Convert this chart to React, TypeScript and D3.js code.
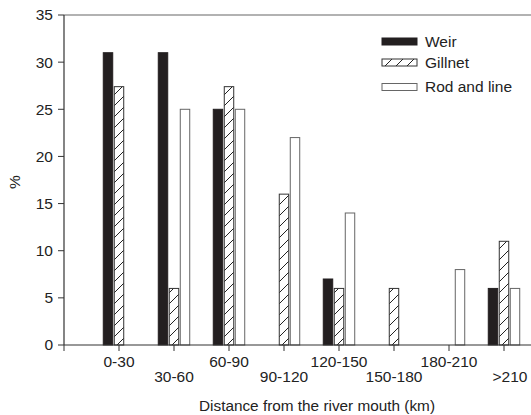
import * as d3 from "d3";

const categories = ["0-30", "30-60", "60-90", "90-120", "120-150", "150-180", "180-210", ">210"];
const seriesNames = ["Weir", "Gillnet", "Rod and line"];
const weir = [31, 31, 25, 0, 7, 0, 0, 6];
const gillnet = [27.4, 6, 27.4, 16, 6, 6, 0, 11];
const rodAndLine = [0, 25, 25, 22, 14, 0, 8, 6];
const yTicks = [0, 5, 10, 15, 20, 25, 30, 35];

const font = "'Liberation Sans', Arial, sans-serif";

export default function App() {
  const width = 531;
  const height = 415;
  const marginLeft = 64;
  const marginTop = 15;
  const plotBottom = 345;

  // category i sits at slot i + 1; slot 0 is the axis origin
  const x = d3.scaleLinear().domain([0, 9]).range([marginLeft, marginLeft + 55 * 9]);
  const y = d3.scaleLinear().domain([0, 35]).range([plotBottom, marginTop]);
  const inner = d3.scaleBand<string>().domain(seriesNames).range([-16.5, 16.5]).paddingInner(0.14).paddingOuter(0.07);

  const series = [weir, gillnet, rodAndLine];
  const fills = ["#231f20", "url(#hatch)", "#fff"];
  const strokes = ["#231f20", "#333", "#666"];

  const bars: { key: string; x: number; y: number; w: number; h: number; s: number }[] = [];
  categories.forEach((c, i) => {
    series.forEach((vals, s) => {
      const v = vals[i];
      if (!v) return;
      bars.push({
        key: c + s,
        x: x(i + 1) + (inner(seriesNames[s]) ?? 0),
        y: y(v),
        w: inner.bandwidth(),
        h: y(0) - y(v),
        s,
      });
    });
  });

  const xTicks = d3.range(0, 9);

  return (
    <svg width={width} height={height} style={{ position: "absolute", left: 0, top: 0, background: "#fff" }}>
      <defs>
        <pattern id="hatch" patternUnits="userSpaceOnUse" width={11} height={11}>
          <rect width={11} height={11} fill="#fff" />
          <line x1={0} y1={11} x2={11} y2={0} stroke="#222" strokeWidth={1} />
          <line x1={-1} y1={1} x2={1} y2={-1} stroke="#222" strokeWidth={1} />
          <line x1={10} y1={12} x2={12} y2={10} stroke="#222" strokeWidth={1} />
        </pattern>
      </defs>

      {bars.map(b => (
        <rect
          key={b.key}
          x={b.x}
          y={b.y}
          width={b.w}
          height={b.h}
          fill={fills[b.s]}
          stroke={strokes[b.s]}
          strokeWidth={1}
        />
      ))}

      {/* frame */}
      <line x1={marginLeft} x2={width} y1={marginTop} y2={marginTop} stroke="#666" strokeWidth={1.2} />
      <line x1={marginLeft} x2={marginLeft} y1={marginTop} y2={plotBottom} stroke="#333" strokeWidth={1.2} />
      <line x1={marginLeft} x2={width} y1={plotBottom} y2={plotBottom} stroke="#333" strokeWidth={1.2} />

      {/* y axis */}
      <g fontFamily={font} fontSize={15.5} fill="#222">
        {yTicks.map(t => (
          <g key={t}>
            <line x1={58} x2={marginLeft} y1={y(t)} y2={y(t)} stroke="#333" />
            <text x={53} y={y(t)} dy="0.35em" textAnchor="end">
              {t}
            </text>
          </g>
        ))}
        <text transform={`translate(20,${(marginTop + plotBottom) / 2 + 2}) rotate(-90)`} textAnchor="middle">
          %
        </text>
      </g>

      {/* x axis */}
      <g fontFamily={font} fontSize={15.5} fill="#222">
        {xTicks.map(t => (
          <line key={t} x1={x(t)} x2={x(t)} y1={plotBottom} y2={plotBottom + 6} stroke="#333" />
        ))}
        {categories.map((c, i) => (
          <text key={c} x={x(i + 1) + (i === 7 ? 6 : 0)} y={i % 2 === 0 ? 366.5 : 381.5} textAnchor="middle">
            {c}
          </text>
        ))}
        <text x={199} y={411} textLength={236} lengthAdjust="spacingAndGlyphs">
          Distance from the river mouth (km)
        </text>
      </g>

      {/* legend */}
      <g fontFamily={font} fontSize={15.5} fill="#222">
        {seriesNames.map((n, s) => {
          const cy = [41.5, 62.5, 87][s];
          return (
            <g key={n}>
              <rect x={382} y={cy - 3.5} width={35} height={7} fill={fills[s]} stroke={strokes[s]} />
              <text x={425} y={cy} dy="0.35em">
                {n}
              </text>
            </g>
          );
        })}
      </g>
    </svg>
  );
}
